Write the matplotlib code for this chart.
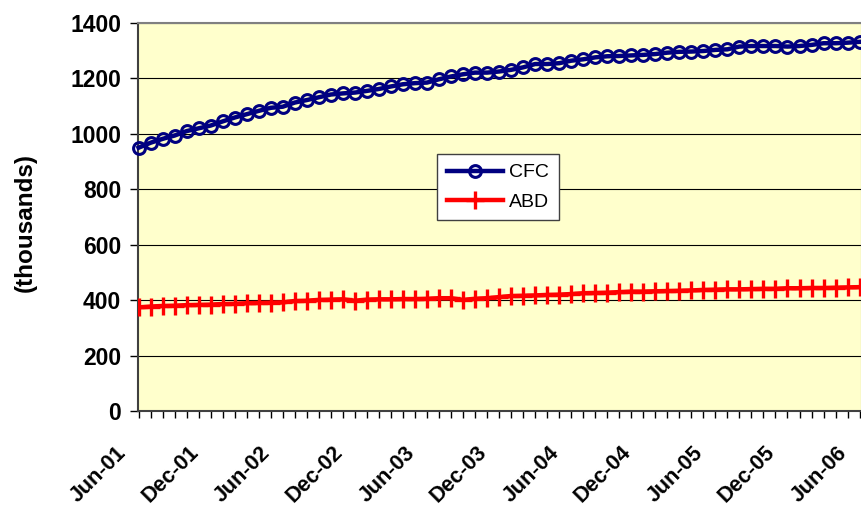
import matplotlib
matplotlib.use('Agg')
import matplotlib.pyplot as plt
import matplotlib.transforms as mtransforms
from matplotlib.ticker import MultipleLocator

plt.rcParams['font.family'] = ['Liberation Sans', 'DejaVu Sans']

# monthly values, Jun-01 .. Jun-06 (thousands)
cfc = [950, 968, 982, 994, 1010, 1020, 1030, 1045, 1059, 1071, 1083,
       1094, 1098, 1113, 1122, 1132, 1142, 1146, 1149, 1155, 1162,
       1171, 1179, 1183, 1185, 1197, 1207, 1215, 1221, 1221, 1225,
       1231, 1240, 1252, 1252, 1255, 1264, 1269, 1276, 1280, 1281,
       1283, 1285, 1288, 1293, 1296, 1297, 1299, 1303, 1305, 1315,
       1317, 1317, 1317, 1315, 1317, 1321, 1327, 1327, 1329, 1332]
abd = [374, 377, 379, 380, 382, 383, 384, 386, 387, 389, 390,
       391, 392, 397, 398, 401, 402, 403, 398, 402, 403,
       403, 404, 404, 405, 407, 407, 401, 405, 407, 411,
       415, 416, 417, 419, 420, 422, 425, 426, 427, 429,
       431, 431, 432, 433, 434, 435, 437, 438, 439, 439,
       440, 441, 441, 443, 443, 444, 444, 445, 446, 447]
tick_labels = ['Jun-01', 'Dec-01', 'Jun-02', 'Dec-02', 'Jun-03', 'Dec-03',
               'Jun-04', 'Dec-04', 'Jun-05', 'Dec-05', 'Jun-06']

W, H = 862, 508
fig = plt.figure(figsize=(W / 100, H / 100), dpi=100)
ax = fig.add_axes([138 / W, 1 - 411 / H, (W - 138) / W, (411 - 23) / H])
ax.set_facecolor('#FFFFCC')

x = list(range(len(cfc)))
ax.plot(x, cfc, color='#000080', lw=3.2, marker='o', ms=8.5, mfc='none',
        mec='#000080', mew=2.2, label='CFC', zorder=3, clip_on=False)
ax.plot(x, abd, color='#FF0000', lw=3.2, marker='+', ms=13, mew=2.4,
        label='ABD', zorder=3)

ax.set_xlim(-0.05, 60.2)
ax.set_ylim(0, 1400)
ax.set_yticks(range(0, 1401, 200))
ax.yaxis.grid(True, color='black', lw=0.8)
ax.set_axisbelow(True)

ax.set_xticks(range(0, 61, 6))
ax.set_xticklabels(tick_labels, rotation=45, ha='right')
ax.xaxis.set_minor_locator(MultipleLocator(1))
ax.tick_params(axis='x', which='both', length=5, width=1, direction='out', pad=8)
ax.tick_params(axis='y', length=6, width=1, direction='out', pad=6)
shift = mtransforms.ScaledTranslation(-8 / 100, -13 / 100, fig.dpi_scale_trans)
for lab in ax.get_xticklabels():
    lab.set_transform(lab.get_transform() + shift)
    lab.set_fontsize(15.5)
    lab.set_fontweight('bold')
for lab in ax.get_yticklabels():
    lab.set_fontsize(16.5)
    lab.set_fontweight('bold')

for side in ['top', 'right']:
    ax.spines[side].set_color('#808080')
    ax.spines[side].set_linewidth(1.5)
for side in ['left', 'bottom']:
    ax.spines[side].set_color('#404040')
    ax.spines[side].set_linewidth(1.5)

fig.text(25 / W, 1 - 222 / H, '(thousands)', rotation=90, ha='center',
         va='center', fontsize=17.5, fontweight='bold')

leg = ax.legend(loc='upper left', bbox_to_anchor=(437 / W, 1 - 154 / H),
                bbox_transform=fig.transFigure, borderaxespad=0, fontsize=14,
                numpoints=1, handlelength=2.9, handletextpad=0.3,
                labelspacing=0.6, borderpad=0.5, fancybox=False, framealpha=1)
leg.get_frame().set_edgecolor('#404040')
leg.get_frame().set_linewidth(1)

fig.savefig('out.png', dpi=100)
